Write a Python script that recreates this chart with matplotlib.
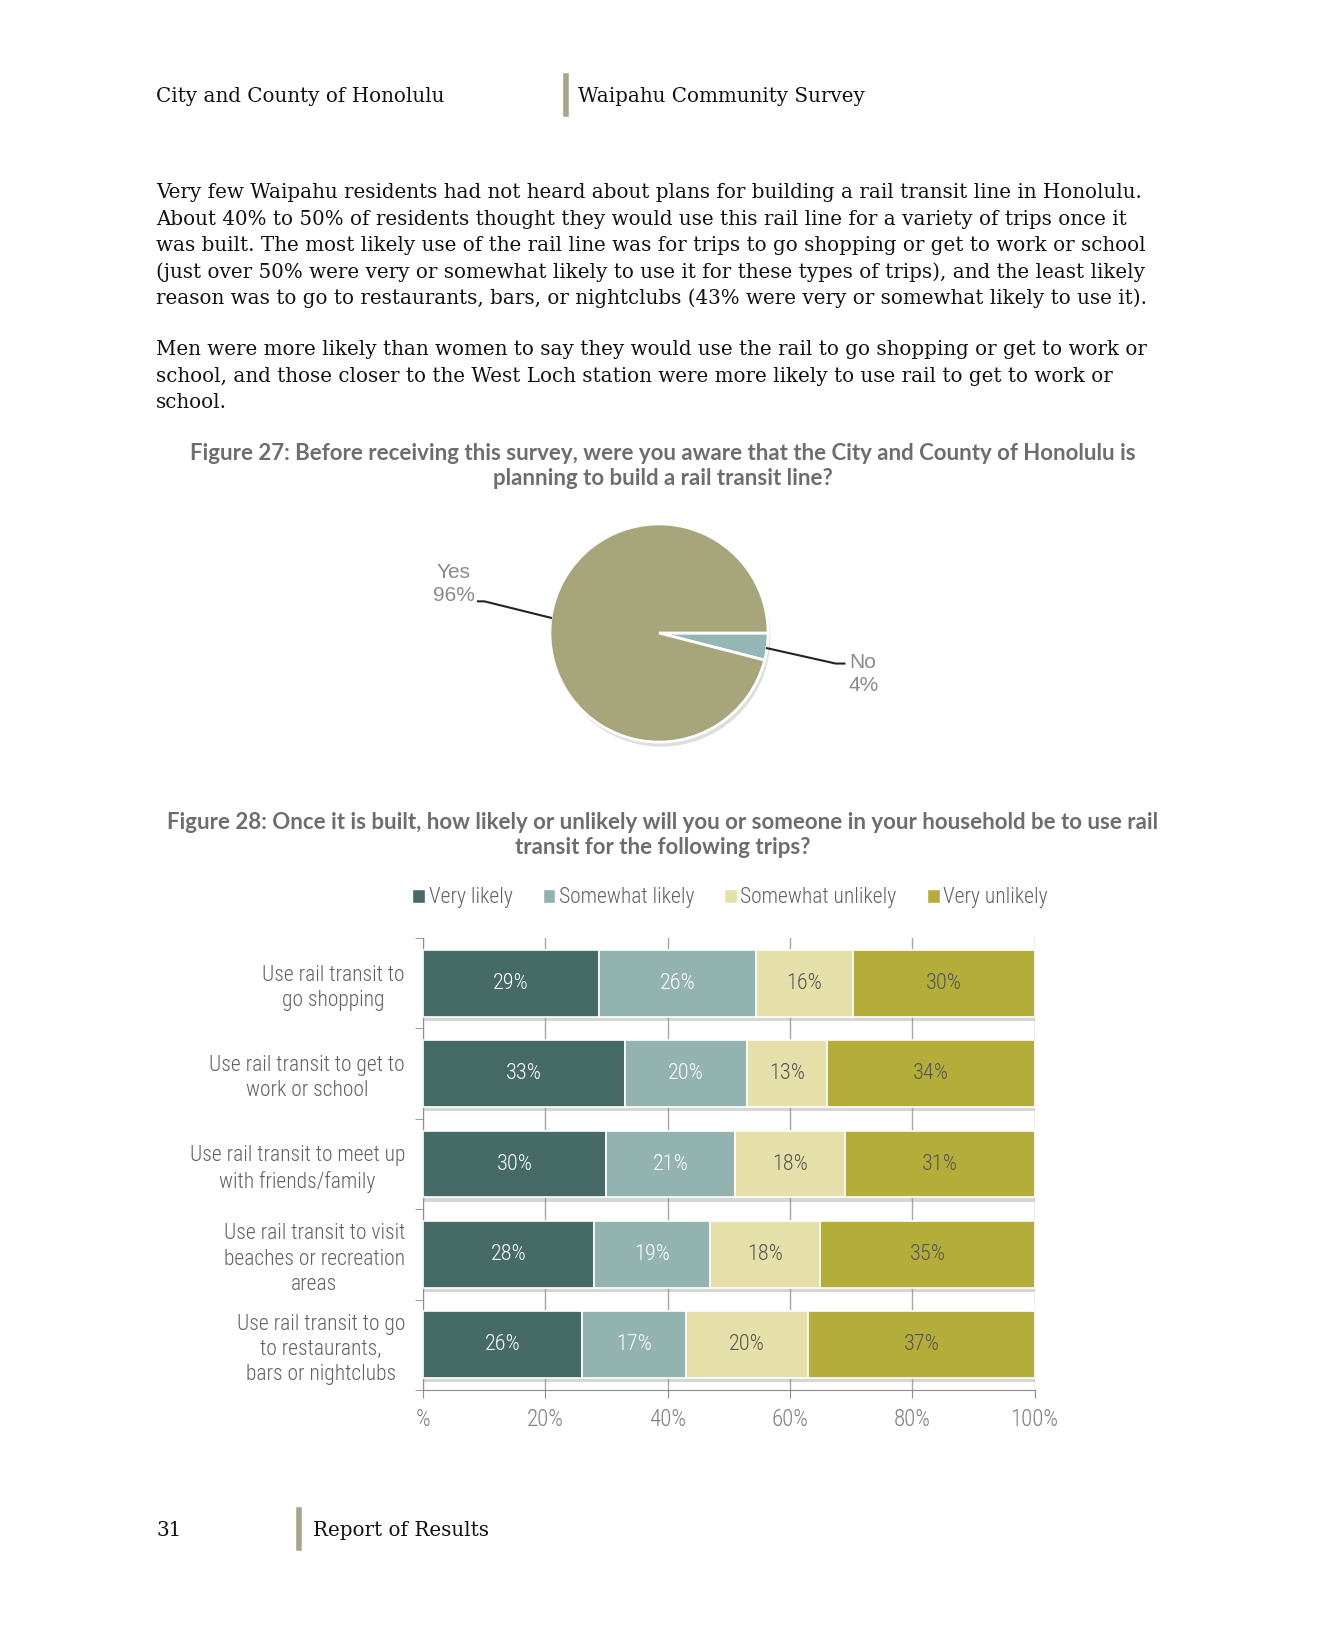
import numpy as np
import matplotlib.pyplot as plt
import matplotlib.patheffects as pe
from matplotlib.patches import Patch
from matplotlib import font_manager as fm

# page size in px
W, H = 1326, 1650

# Figure 27 data
pie_labels = ["No", "Yes"]
pie_values = [4, 96]

# Figure 28 data
categories = ["Use rail transit to\ngo shopping",
              "Use rail transit to get to\nwork or school",
              "Use rail transit to meet up\nwith friends/family",
              "Use rail transit to visit\nbeaches or recreation\nareas",
              "Use rail transit to go\nto restaurants,\nbars or nightclubs"]
series_names = ["Very likely", "Somewhat likely", "Somewhat unlikely", "Very unlikely"]
very_likely = [29, 33, 30, 28, 26]
somewhat_likely = [26, 20, 21, 19, 17]
somewhat_unlikely = [16, 13, 18, 18, 20]
very_unlikely = [30, 34, 31, 35, 37]
xtick_labels = ["%", "20%", "40%", "60%", "80%", "100%"]

para1 = ["Very few Waipahu residents had not heard about plans for building a rail transit line in Honolulu.",
         "About 40% to 50% of residents thought they would use this rail line for a variety of trips once it",
         "was built. The most likely use of the rail line was for trips to go shopping or get to work or school",
         "(just over 50% were very or somewhat likely to use it for these types of trips), and the least likely",
         "reason was to go to restaurants, bars, or nightclubs (43% were very or somewhat likely to use it)."]
para2 = ["Men were more likely than women to say they would use the rail to go shopping or get to work or",
         "school, and those closer to the West Loch station were more likely to use rail to get to work or",
         "school."]


def pick_font(names, default):
    # first installed family of the list
    for n in names:
        try:
            fm.findfont(fm.FontProperties(family=n), fallback_to_default=False)
            return n
        except Exception:
            pass
    return default


serif = ["DejaVu Serif"]
narrow = [pick_font(["Liberation Sans Narrow", "DejaVu Sans Condensed", "Roboto Condensed"], "Liberation Sans"),
          "DejaVu Sans"]
plain = ["Liberation Sans", "DejaVu Sans"]
title_font = ["Lato", "DejaVu Sans"]
bar_colors = ["#466a66", "#93b3b0", "#e5e0aa", "#b5ad3a"]
txt_colors = ["white", "white", "#555555", "#555555"]
lw_txt = "light"


def fx(x):
    return x / W


def fy(y):
    return 1 - y / H


fig = plt.figure(figsize=(W / 100, H / 100), dpi=100)

# header / footer
fig.text(fx(156), fy(102), "City and County of Honolulu", family=serif, fontsize=14.3, va="baseline", color="#111111")
fig.text(fx(578), fy(102), "Waipahu Community Survey", family=serif, fontsize=14.3, va="baseline", color="#111111")
fig.add_artist(plt.Line2D([fx(566), fx(566)], [fy(76), fy(114)], color="#a5a589", lw=4))
fig.text(fx(156), fy(1536), "31", family=serif, fontsize=14.3, va="baseline", color="#111111")
fig.text(fx(313), fy(1536), "Report of Results", family=serif, fontsize=14.3, va="baseline", color="#111111")
fig.add_artist(plt.Line2D([fx(299), fx(299)], [fy(1510), fy(1548)], color="#a5a589", lw=4))

# body text
for i, line in enumerate(para1):
    fig.text(fx(156), fy(198 + i * 26.6), line, family=serif, fontsize=14.3, va="baseline", color="#111111")
for i, line in enumerate(para2):
    fig.text(fx(156), fy(355 + i * 26.6), line, family=serif, fontsize=14.3, va="baseline", color="#111111")

# figure titles
fig.text(fx(663), fy(466), "Figure 27: Before receiving this survey, were you aware that the City and County of Honolulu is\n"
         "planning to build a rail transit line?", family=title_font, fontsize=16, fontweight="bold",
         ha="center", va="center", color="#6d6d6d", linespacing=1.22)
fig.text(fx(663), fy(835), "Figure 28: Once it is built, how likely or unlikely will you or someone in your household be to use rail\n"
         "transit for the following trips?", family=title_font, fontsize=16, fontweight="bold",
         ha="center", va="center", color="#6d6d6d", linespacing=1.22)

# ---- pie ----
ax_p = fig.add_axes([fx(659 - 120), fy(633 + 120), 240 / W, 240 / H])
wedges, _ = ax_p.pie(pie_values, colors=["#94b7b5", "#a7a67b"], startangle=0, counterclock=False,
                     wedgeprops=dict(edgecolor="white", linewidth=2),
                     shadow=dict(ox=0.015, oy=-0.03, facecolor="#c8c8c8", edgecolor="none", alpha=0.6))
ax_p.set_xlim(-1.1, 1.1)
ax_p.set_ylim(-1.1, 1.1)
ax_p.set_aspect("equal")
ax_p.axis("off")

a_yes = np.deg2rad(172)
a_no = np.deg2rad(-8)
ax_p.plot([-1.66, -1.6, np.cos(a_yes)], [0.29, 0.29, np.sin(a_yes)], color="#222222", lw=1.5, clip_on=False)
ax_p.plot([np.cos(a_no), 1.62, 1.7], [np.sin(a_no), -0.28, -0.28], color="#222222", lw=1.5, clip_on=False)
fig.text(fx(454), fy(584), "%s\n%d%%" % (pie_labels[1], pie_values[1]), family=plain, fontsize=15,
         ha="center", va="center", color="#8a8a8a", linespacing=1.3)
fig.text(fx(849), fy(674), "%s\n%d%%" % (pie_labels[0], pie_values[0]), family=plain, fontsize=15,
         ha="left", va="center", color="#8a8a8a", linespacing=1.3)

# ---- stacked bars ----
ax = fig.add_axes([fx(423), fy(1390), (1034.5 - 423) / W, (1390 - 938) / H])
data = np.array([very_likely, somewhat_likely, somewhat_unlikely, very_unlikely], dtype=float)
shares = data / data.sum(axis=0) * 100
y = np.arange(len(categories))
left = np.zeros(len(categories))
shadow = [pe.SimplePatchShadow(offset=(0, -3), shadow_rgbFace="#999999", alpha=0.4), pe.Normal()]
for k, name in enumerate(series_names):
    bars = ax.barh(y, shares[k], left=left, height=0.74, color=bar_colors[k], edgecolor="white",
                   linewidth=1.2, zorder=3)
    for b in bars:
        b.set_path_effects(shadow)
    for j in range(len(categories)):
        ax.text(left[j] + shares[k][j] / 2, y[j], "%d%%" % data[k][j], ha="center", va="center",
                family=narrow, fontsize=16, fontweight=lw_txt, color=txt_colors[k], zorder=4)
    left += shares[k]

ax.set_xlim(0, 100)
ax.set_ylim(len(categories) - 0.5, -0.5)
ax.set_xticks(np.arange(0, 101, 20))
ax.set_xticklabels(xtick_labels, family=narrow, fontsize=16.5, fontweight=lw_txt, color="#7f7f7f")
ax.set_yticks(y)
ax.set_yticklabels(categories, family=narrow, fontsize=15.5, fontweight=lw_txt, color="#606060",
                   linespacing=1.27, ha="right", multialignment="center")
ax.set_yticks(np.arange(-0.5, len(categories)), minor=True)
ax.tick_params(axis="y", which="major", length=0, pad=13)
ax.tick_params(axis="y", which="minor", length=6, color="#8c8c8c", direction="out")
ax.tick_params(axis="x", length=6, color="#8c8c8c", direction="out", pad=7)
ax.grid(axis="x", color="#a6a6a6", lw=1, zorder=0)
ax.set_axisbelow(True)
for s in ["top", "right"]:
    ax.spines[s].set_visible(False)
for s in ["left", "bottom"]:
    ax.spines[s].set_color("#8c8c8c")

handles = [Patch(facecolor=c, edgecolor="white") for c in bar_colors]
fig.legend(handles, series_names, loc="center", bbox_to_anchor=(fx(730), fy(898)), ncol=4,
           frameon=False, handlelength=0.6, handleheight=0.6, handletextpad=0.15, columnspacing=1.4,
           prop=dict(family=narrow, size=15.5, weight=lw_txt), labelcolor="#606060")

fig.savefig("out.png", dpi=100)
